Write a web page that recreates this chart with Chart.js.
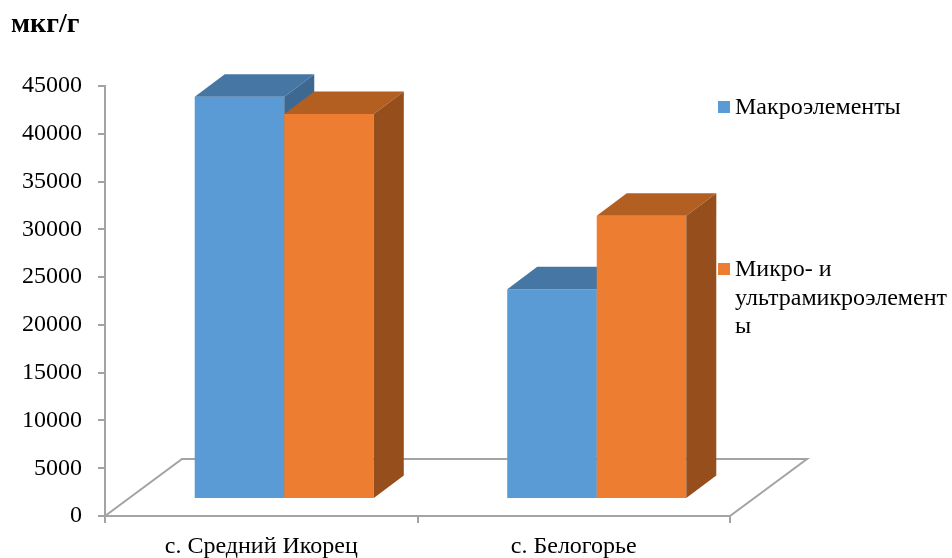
<!DOCTYPE html>
<html>
<head>
<meta charset="utf-8">
<script src="https://cdn.jsdelivr.net/npm/chart.js@4/dist/chart.umd.min.js"></script>
<style>
  html, body { margin: 0; padding: 0; background: #fff; }
  #wrap { position: relative; width: 952px; height: 558px; }
  canvas { display: block; }
</style>
</head>
<body>
<div id="wrap"><canvas id="chart" width="952" height="558"></canvas></div>
<script>
// Villages (categories)
const categories = ['с. Средний Икорец', 'с. Белогорье'];

// Content, мкг/г
const macroValues = [42100, 21950];
const microValues = [40300, 29650];

// Series names and the way they are wrapped in the legend
const seriesNames = ['Макроэлементы', 'Микро- и ультрамикроэлементы'];
const legendLines = [['Макроэлементы'], ['Микро- и', 'ультрамикроэлемент', 'ы']];

// Value axis
const yMin = 0;
const yMax = 45000;
const yStep = 5000;
const unitLabel = 'мкг/г';

// ---- styling ----
const SERIF = '"Liberation Serif", "Times New Roman", serif';
const AXIS_GREY = '#a3a3a3';
const FRONT = ['#5b9bd5', '#ed7d31'];
const TOP = ['#4677a4', '#b45f22'];
const SIDE = ['#3c6891', '#974e1d'];

// oblique depth of the floor and of the boxes
const FLOOR_DX = 77, FLOOR_DY = -57;
const BAR_SHIFT_X = 23, BAR_SHIFT_Y = -17;  // where the box fronts stand on the floor
const BOX_DX = 30, BOX_DY = -22.5;            // depth of each box

function poly(ctx, pts, color) {
  ctx.beginPath();
  ctx.moveTo(pts[0][0], pts[0][1]);
  for (let i = 1; i < pts.length; i++) ctx.lineTo(pts[i][0], pts[i][1]);
  ctx.closePath();
  ctx.fillStyle = color;
  ctx.fill();
}

const box3d = {
  id: 'box3d',
  beforeDatasetsDraw(chart) {
    const ctx = chart.ctx;
    const a = chart.chartArea;
    // floor outline (front edge is the category axis line)
    ctx.save();
    ctx.strokeStyle = AXIS_GREY;
    ctx.lineWidth = 2;
    ctx.beginPath();
    ctx.moveTo(a.left, a.bottom);
    ctx.lineTo(a.left + FLOOR_DX, a.bottom + FLOOR_DY);
    ctx.lineTo(a.right + FLOOR_DX, a.bottom + FLOOR_DY);
    ctx.lineTo(a.right, a.bottom);
    ctx.stroke();
    ctx.restore();

    // boxes, series by series, left to right
    chart.data.datasets.forEach((ds, di) => {
      const meta = chart.getDatasetMeta(di);
      if (meta.hidden) return;
      ctx.save();
      ctx.translate(BAR_SHIFT_X, BAR_SHIFT_Y);
      meta.data.forEach(el => {
        const p = el.getProps(['x', 'y', 'base', 'width'], true);
        const l = p.x - p.width / 2, r = p.x + p.width / 2;
        el.draw(ctx);
        poly(ctx, [[l, p.y], [r, p.y], [r + BOX_DX, p.y + BOX_DY], [l + BOX_DX, p.y + BOX_DY]], TOP[di]);
        poly(ctx, [[r, p.y], [r + BOX_DX, p.y + BOX_DY], [r + BOX_DX, p.base + BOX_DY], [r, p.base]], SIDE[di]);
      });
      ctx.restore();
    });
    return false;
  }
};

const sideLegend = {
  id: 'sideLegend',
  afterDraw(chart) {
    const ctx = chart.ctx;
    ctx.save();
    ctx.font = '24px ' + SERIF;
    ctx.textBaseline = 'middle';
    ctx.textAlign = 'left';
    const itemY = [107, 269];
    legendLines.forEach((lines, i) => {
      ctx.fillStyle = FRONT[i];
      ctx.fillRect(718, itemY[i] - 6, 12, 12);
      ctx.fillStyle = '#000';
      lines.forEach((t, k) => ctx.fillText(t, 735, itemY[i] + 1 + k * 28.5));
    });
    // unit caption
    ctx.font = 'bold 28px ' + SERIF;
    ctx.textBaseline = 'alphabetic';
    ctx.fillText(unitLabel, 11, 32);
    ctx.restore();
  }
};

new Chart(document.getElementById('chart'), {
  type: 'bar',
  data: {
    labels: categories,
    datasets: [
      { label: seriesNames[0], data: macroValues, backgroundColor: FRONT[0], borderWidth: 0 },
      { label: seriesNames[1], data: microValues, backgroundColor: FRONT[1], borderWidth: 0 }
    ]
  },
  options: {
    responsive: false,
    animation: false,
    devicePixelRatio: 1,
    layout: { padding: { left: 0, top: 86, right: 222, bottom: 0 } },
    datasets: { bar: { categoryPercentage: 0.573, barPercentage: 1.0 } },
    plugins: { legend: { display: false }, tooltip: { enabled: false } },
    scales: {
      x: {
        grid: { display: true, offset: true, drawOnChartArea: false, drawTicks: true, tickLength: 7, color: AXIS_GREY, lineWidth: 2 },
        border: { display: true, color: AXIS_GREY, width: 2 },
        ticks: { color: '#000', font: { family: SERIF, size: 24 }, padding: 9, maxRotation: 0 },
        afterFit(s) { s.height = 42; }
      },
      y: {
        min: yMin, max: yMax,
        grid: { display: true, drawOnChartArea: false, drawTicks: true, tickLength: 7, color: AXIS_GREY, lineWidth: 2 },
        border: { display: true, color: AXIS_GREY, width: 2 },
        ticks: { stepSize: yStep, color: '#000', font: { family: SERIF, size: 24 }, padding: 16,
                 callback: v => String(v) },
        afterFit(s) { s.width = 105; }
      }
    }
  },
  plugins: [box3d, sideLegend]
});
</script>
</body>
</html>
